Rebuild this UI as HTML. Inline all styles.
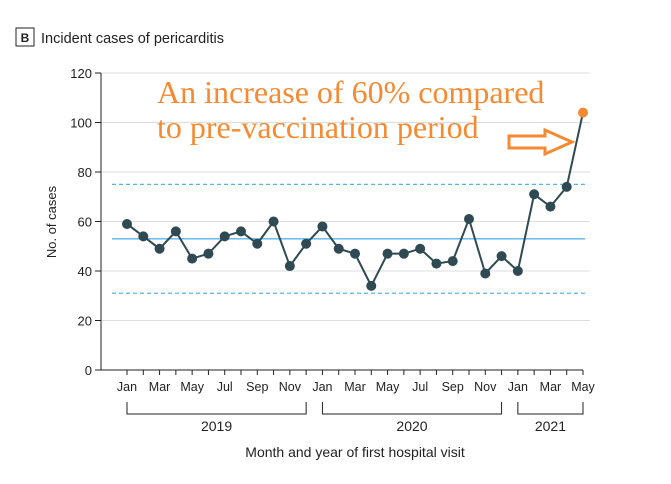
<!DOCTYPE html>
<html><head><meta charset="utf-8"><style>
body{margin:0;background:#fff;}
svg{display:block;font-family:"Liberation Sans",sans-serif;}
</style></head><body>
<svg id="chart" width="671" height="484">
<g>
<rect x="16" y="28" width="18" height="18" fill="none" stroke="#222" stroke-width="1"/>
<text x="25" y="42" text-anchor="middle" font-size="12" font-weight="bold" fill="#222">B</text>
<text x="41" y="43" font-size="14.5" fill="#222">Incident cases of pericarditis</text>
</g>
<g id="grid"></g><g id="axes"></g><g id="ref"></g><g id="series"></g>
<text x="157" y="103" font-family="Liberation Serif,serif" font-size="32" fill="#f58a32">An increase of 60% compared</text>
<text x="157" y="138" font-family="Liberation Serif,serif" font-size="32" fill="#f58a32">to pre-vaccination period</text>
<path d="M509,136 L545,136 L545,130 L572,142 L545,154 L545,148 L509,148 Z" fill="#fff" stroke="#f58a32" stroke-width="3"/>
<text x="56" y="222" transform="rotate(-90 56 222)" text-anchor="middle" font-size="13" fill="#222">No. of cases</text>
<text x="355" y="457" text-anchor="middle" font-size="14" fill="#222">Month and year of first hospital visit</text>
</svg>
<script>
const months=["Jan","Feb","Mar","Apr","May","Jun","Jul","Aug","Sep","Oct","Nov","Dec","Jan","Feb","Mar","Apr","May","Jun","Jul","Aug","Sep","Oct","Nov","Dec","Jan","Feb","Mar","Apr","May"];
const cases=[59,54,49,56,45,47,54,56,51,60,42,51,58,49,47,34,47,47,49,43,44,61,39,46,40,71,66,74,104];
const yTicks=[0,20,40,60,80,100,120];
const years=["2019","2020","2021"];
const yearStart=[0,12,24];
const yearEnd=[11,23,28];
const meanLine=53, upperLine=75, lowerLine=31;
const NS="http://www.w3.org/2000/svg";
const X=i=>127+i*(583-127)/28;
const Y=v=>370-v*(370-73)/120;
function mk(p,t,a){const e=document.createElementNS(NS,t);for(const k in a)e.setAttribute(k,a[k]);document.getElementById(p).appendChild(e);return e;}
yTicks.forEach(v=>{
 if(v>0){const g=mk('grid','line',{x1:101,x2:590,y1:Y(v),y2:Y(v),stroke:'#ddd','stroke-width':1});
 
 }
 const t=mk('axes','line',{x1:95,x2:101,y1:Y(v),y2:Y(v),stroke:'#222'});
 
 
 const l=mk('axes','text',{x:92,y:Y(v)+5,'text-anchor':'end','font-size':13,fill:'#222'});l.textContent=v;
 
 
});
let a=mk('axes','line',{x1:101,x2:101,y1:Y(120),y2:Y(0),stroke:'#222'});


a=mk('axes','line',{x1:101,x2:X(28),y1:Y(0),y2:Y(0),stroke:'#222'});


months.forEach((m,i)=>{
 const t=mk('axes','line',{x1:X(i),x2:X(i),y1:370,y2:375,stroke:'#222'});
 
 
 if(i%2==0){const l=mk('axes','text',{x:X(i),y:391,'text-anchor':'middle','font-size':12.5,fill:'#222'});l.textContent=m;
 
 }
});
years.forEach((y,k)=>{
 const x1=X(yearStart[k]),x2=X(yearEnd[k]);
 const b=mk('axes','path',{d:`M${x1},402 L${x1},414 L${x2},414 L${x2},402`,fill:'none',stroke:'#222'});
 
 
 const l=mk('axes','text',{x:(x1+x2)/2,y:431,'text-anchor':'middle','font-size':14,fill:'#222'});l.textContent=y;
 
 
});
[[meanLine,'mean-line',''],[upperLine,'upper-control-limit','4,3'],[lowerLine,'lower-control-limit','4,3']].forEach(r=>{
 const l=mk('ref','line',{x1:112,x2:585,y1:Y(r[0]),y2:Y(r[0]),stroke:'#5bb4e5','stroke-width':1.3,'stroke-dasharray':r[2]});
 
 
});
const pl=mk('series','polyline',{points:cases.map((v,i)=>X(i)+','+Y(v)).join(' '),fill:'none',stroke:'#2f4a52','stroke-width':2});


cases.forEach((v,i)=>{
 const last=i===cases.length-1;
 const c=mk('series','circle',{cx:X(i),cy:Y(v),r:5,fill:last?'#f58a32':'#2f4a52'});
 
 
});
</script>
</body></html>
